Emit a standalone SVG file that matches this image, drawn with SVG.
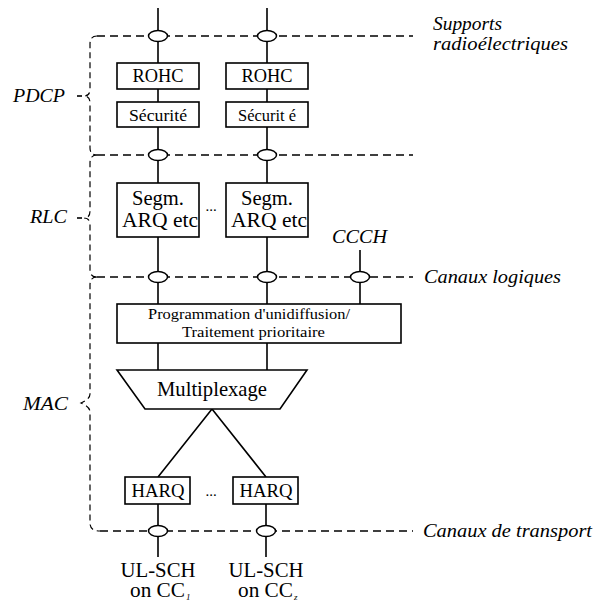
<svg xmlns="http://www.w3.org/2000/svg" width="594" height="603" viewBox="0 0 594 603">
<style>
.bx{fill:#fff;stroke:#000;stroke-width:1.6}
.ln{stroke:#000;stroke-width:1.6;fill:none}
.ds{stroke:#000;stroke-width:1.5;fill:none;stroke-dasharray:8 5}
.br{stroke:#000;stroke-width:1.2;fill:none;stroke-dasharray:6 4}
.ov{fill:#fff;stroke:#000;stroke-width:1.5}
.t{font-family:"Liberation Serif","Times New Roman","DejaVu Serif",serif;fill:#000}
.i{font-family:"Liberation Serif","Times New Roman","DejaVu Serif",serif;font-style:italic;fill:#000}
.c{text-anchor:middle}
</style>
<rect width="594" height="603" fill="#fff"/>
<g id="connectors">
<path class="ln" d="M158,8V63M158,89V102M158,127V183M158,237V304M158,343V370"/>
<path class="ln" d="M267,8V63M267,89V102M267,127V183M267,237V304M267,343V370"/>
<path class="ln" d="M360,250V304"/>
<path class="ln" d="M212,409L158,477M212,409L266,477"/>
<path class="ln" d="M158,504V557M266,504V557"/>
</g>
<g id="layers">
<path class="ds" d="M97,36H413M97,155H413M97,277H413M100,531H413"/>
<path class="br" d="M97,36Q90,36 90,44V89Q90,96 84,96Q90,96 90,103V148Q90,155 97,155"/>
<path class="ln" d="M77,96H82" stroke-width="1.3"/>
<path class="br" d="M97,155Q90,155 90,163V211Q90,218 84,218Q90,218 90,225V270Q90,277 97,277"/>
<path class="ln" d="M77,218H82" stroke-width="1.3"/>
<path class="br" d="M97,277Q90,277 90,285V394Q90,399 81,403Q90,407 90,412V523Q90,531 100,531"/>
</g>
<g id="ovals">
<ellipse class="ov" cx="158" cy="36" rx="9.5" ry="5.5"/>
<ellipse class="ov" cx="267" cy="36" rx="9.5" ry="5.5"/>
<ellipse class="ov" cx="158" cy="155" rx="9.5" ry="5.5"/>
<ellipse class="ov" cx="267" cy="155" rx="9.5" ry="5.5"/>
<ellipse class="ov" cx="158" cy="277" rx="9.5" ry="5.5"/>
<ellipse class="ov" cx="267" cy="277" rx="9.5" ry="5.5"/>
<ellipse class="ov" cx="360" cy="277" rx="9.5" ry="5.5"/>
<ellipse class="ov" cx="158" cy="531" rx="9.5" ry="5.5"/>
<ellipse class="ov" cx="266" cy="531" rx="9.5" ry="5.5"/>
</g>
<g id="rohc1"><rect class="bx" x="117" y="63" width="82" height="26"/><text class="t c" x="158" y="82" font-size="18" textLength="51" lengthAdjust="spacingAndGlyphs">ROHC</text></g>
<g id="rohc2"><rect class="bx" x="226" y="63" width="82" height="26"/><text class="t c" x="267" y="82" font-size="18" textLength="51" lengthAdjust="spacingAndGlyphs">ROHC</text></g>
<g id="secu1"><rect class="bx" x="117" y="102" width="82" height="25"/><text class="t c" x="158" y="121" font-size="17" textLength="58" lengthAdjust="spacingAndGlyphs">Sécurité</text></g>
<g id="secu2"><rect class="bx" x="226" y="102" width="82" height="25"/><text class="t c" x="267" y="121" font-size="17" textLength="58" lengthAdjust="spacingAndGlyphs">Sécurit é</text></g>
<g id="rlc1"><rect class="bx" x="117" y="183" width="82" height="54"/><text class="t c" x="158" y="205" font-size="20" textLength="52" lengthAdjust="spacingAndGlyphs">Segm.</text><text class="t c" x="160" y="227" font-size="20" textLength="76" lengthAdjust="spacingAndGlyphs">ARQ etc</text></g>
<g id="rlc2"><rect class="bx" x="226" y="183" width="82" height="54"/><text class="t c" x="267" y="205" font-size="20" textLength="52" lengthAdjust="spacingAndGlyphs">Segm.</text><text class="t c" x="269" y="227" font-size="20" textLength="76" lengthAdjust="spacingAndGlyphs">ARQ etc</text></g>
<text class="t c" x="211" y="211" font-size="15">...</text>
<g id="prog"><rect class="bx" x="117" y="304" width="284" height="39"/><text class="t c" x="249" y="319" font-size="15" textLength="202" lengthAdjust="spacingAndGlyphs">Programmation d'unidiffusion/</text><text class="t c" x="253.5" y="337" font-size="15" textLength="143" lengthAdjust="spacingAndGlyphs">Traitement prioritaire</text></g>
<g id="mux"><path class="bx" d="M117,370H307L280,409H145Z"/><text class="t c" x="212" y="396" font-size="21" textLength="110" lengthAdjust="spacingAndGlyphs">Multiplexage</text></g>
<g id="harq1"><rect class="bx" x="125" y="477" width="65" height="27"/><text class="t c" x="158" y="497" font-size="18" textLength="53" lengthAdjust="spacingAndGlyphs">HARQ</text></g>
<g id="harq2"><rect class="bx" x="233" y="477" width="65" height="27"/><text class="t c" x="266" y="497" font-size="18" textLength="53" lengthAdjust="spacingAndGlyphs">HARQ</text></g>
<text class="t c" x="211" y="496" font-size="15">...</text>
<g id="ulsch1"><text class="t c" x="158" y="577" font-size="20" textLength="75" lengthAdjust="spacingAndGlyphs">UL-SCH</text><text class="t" x="130" y="597" font-size="20" textLength="55" lengthAdjust="spacingAndGlyphs">on CC</text><text class="i" x="186" y="600" font-size="9">1</text></g>
<g id="ulsch2"><text class="t c" x="266" y="577" font-size="20" textLength="75" lengthAdjust="spacingAndGlyphs">UL-SCH</text><text class="t" x="238" y="597" font-size="20" textLength="55" lengthAdjust="spacingAndGlyphs">on CC</text><text class="i" x="294" y="600" font-size="9">z</text></g>
<g id="labels">
<text class="i" x="433" y="30" font-size="19" textLength="69" lengthAdjust="spacingAndGlyphs">Supports</text>
<text class="i" x="433" y="50" font-size="19" textLength="135" lengthAdjust="spacingAndGlyphs">radioélectriques</text>
<text class="i" x="13" y="102" font-size="19" textLength="52" lengthAdjust="spacingAndGlyphs">PDCP</text>
<text class="i" x="30" y="223" font-size="19" textLength="37" lengthAdjust="spacingAndGlyphs">RLC</text>
<text class="i" x="23" y="410" font-size="19" textLength="45" lengthAdjust="spacingAndGlyphs">MAC</text>
<text class="i" x="332" y="243" font-size="19" textLength="55" lengthAdjust="spacingAndGlyphs">CCCH</text>
<text class="i" x="424" y="283" font-size="19" textLength="137" lengthAdjust="spacingAndGlyphs">Canaux logiques</text>
<text class="i" x="423" y="537" font-size="19" textLength="169" lengthAdjust="spacingAndGlyphs">Canaux de transport</text>
</g>
</svg>
